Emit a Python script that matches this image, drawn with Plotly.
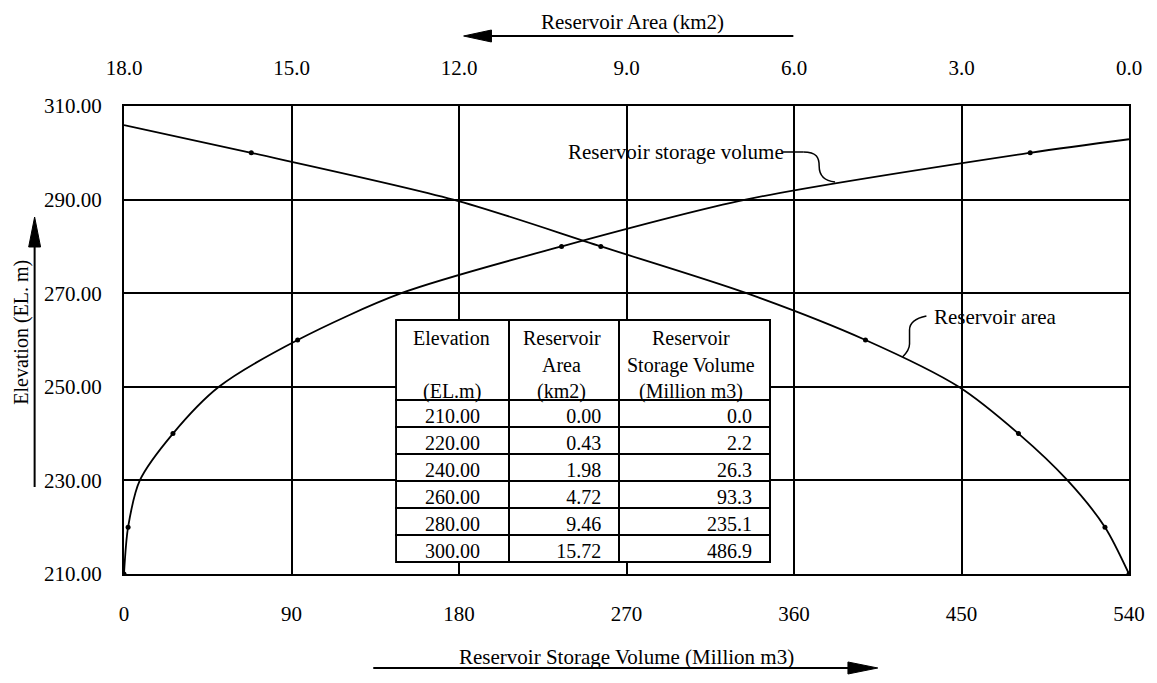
import plotly.graph_objects as go

# ---- data ----
elev_table = [210, 220, 240, 260, 280, 300]
area_table = [0.00, 0.43, 1.98, 4.72, 9.46, 15.72]
vol_table = [0.0, 2.2, 26.3, 93.3, 235.1, 486.9]

# points
vol_curve = [0, 2.2, 8.5, 26.3, 51, 93.3, 149, 235.1, 334, 486.9, 540]
vol_curve_elev = [210, 220, 230, 240, 250, 260, 270, 280, 290, 300, 302.9]
area_curve = [0.0, 0.43, 1.1, 1.98, 3.05, 4.72, 6.85, 9.46, 12.1, 15.72, 18.0]
area_curve_elev = [210, 220, 230, 240, 250, 260, 270, 280, 290, 300, 305.9]

vol_ticks = [0, 90, 180, 270, 360, 450, 540]
area_ticks = [18.0, 15.0, 12.0, 9.0, 6.0, 3.0, 0.0]
elev_ticks = [210, 230, 250, 270, 290, 310]

header_lines = [["Elevation", "", "(EL.m)"],
                ["Reservoir", "Area", "(km2)"],
                ["Reservoir", "Storage Volume", "(Million m3)"]]

# ---- layout geometry (reference pixels) ----
OFF = 8                      # page body margin
W, H = 1157, 683
L, R, T, B = 124, 1136, 106, 574
FW, FH = W - OFF, H - OFF
FONT = "Liberation Serif"


def px(x):
    return (x - L) / (R - L)


def py(y):
    return (B - y) / (B - T)


fig = go.Figure()

fig.add_trace(go.Scatter(x=vol_curve, y=vol_curve_elev, mode="lines",
                         line=dict(color="black", width=1.8, shape="spline", smoothing=0.8),
                         hoverinfo="skip", showlegend=False))
fig.add_trace(go.Scatter(x=vol_table, y=elev_table, mode="markers",
                         marker=dict(color="black", size=5), showlegend=False))
fig.add_trace(go.Scatter(x=area_curve, y=area_curve_elev, mode="lines", xaxis="x2",
                         line=dict(color="black", width=1.8, shape="spline", smoothing=0.8),
                         hoverinfo="skip", showlegend=False))
fig.add_trace(go.Scatter(x=area_table, y=elev_table, mode="markers", xaxis="x2",
                         marker=dict(color="black", size=5), showlegend=False))

# table geometry
tx0, tx1, ty0, ty1 = 398, 770, 320, 562
col_edges = [398, 510, 620, 770]
fig.add_trace(go.Table(
    domain=dict(x=[px(tx0), px(tx1 + 5)], y=[py(ty1 + 6), py(ty0)]),
    columnwidth=[112, 110, 150],
    header=dict(values=["", "", ""], align="center", height=80,
                fill_color="white", line=dict(color="black", width=2),
                font=dict(family=FONT, size=20, color="black")),
    cells=dict(values=[elev_table, area_table, vol_table],
               format=[".2f", ".2f", ".1f"],
               suffix=["", "\u00a0\u00a0", "\u00a0\u00a0"],
               align=["center", "right", "right"], height=27,
               fill_color="white", line=dict(color="black", width=2),
               font=dict(family=FONT, size=20, color="black")),
))

axis_common = dict(showline=True, linecolor="black", linewidth=2, zeroline=False,
                   ticks="", tickfont=dict(family=FONT, size=21, color="black"))

fig.update_layout(
    width=FW, height=FH,
    margin=dict(l=L - OFF, r=FW - (R - OFF), t=T - OFF, b=FH - (B - OFF)),
    paper_bgcolor="white", plot_bgcolor="white",
    xaxis=dict(range=[0, 540], tickvals=vol_ticks, showgrid=True, gridcolor="black",
               gridwidth=2, mirror=True, ticklabelstandoff=20, **axis_common),
    xaxis2=dict(range=[18, 0], tickvals=area_ticks, tickformat=".1f", overlaying="x",
                side="top", showgrid=False, ticklabelstandoff=21, **axis_common),
    yaxis=dict(range=[210, 310], tickvals=elev_ticks, tickformat=".2f", showgrid=True,
               gridcolor="black", gridwidth=2, mirror=True, ticklabelstandoff=16,
               **axis_common),
    font=dict(family=FONT, color="black"),
)


def note(text, x, y, size=21, xanchor="center", **kw):
    fig.add_annotation(text=text, x=px(x), y=py(y), xref="paper", yref="paper",
                       showarrow=False, xanchor=xanchor, yanchor="middle",
                       font=dict(family=FONT, size=size, color="black"), **kw)


note("Reservoir Area (km2)", 636, 22)
note("Reservoir Storage Volume (Million m3)", 630, 657)
note("Elevation (EL. m)", 20, 332, size=20, textangle=-90)
note("Reservoir storage volume", 569, 152, xanchor="left")
note("Reservoir area", 938, 317, xanchor="left")

# table header text (one centred line each)
hdr_y = [338, 365, 391]
for ci, lines in enumerate(header_lines):
    cx = (col_edges[ci] + col_edges[ci + 1]) / 2
    for li, txt in enumerate(lines):
        if txt:
            note(txt, cx, hdr_y[li], size=20)


def path(cmds, close=False):
    parts = [f"{c}{px(a):.5f},{py(b):.5f}" for c, (a, b) in cmds]
    return " ".join(parts) + (" Z" if close else "")


def bez(p0, c1, c2, p1):
    return (f"M{px(p0[0]):.5f},{py(p0[1]):.5f} "
            f"C{px(c1[0]):.5f},{py(c1[1]):.5f} {px(c2[0]):.5f},{py(c2[1]):.5f} "
            f"{px(p1[0]):.5f},{py(p1[1]):.5f}")


line_style = dict(color="black", width=1.5)
shapes = [
    # leader: storage volume
    dict(type="line", xref="paper", yref="paper", x0=px(787), y0=py(152), x1=px(808), y1=py(152),
         line=line_style),
    dict(type="path", xref="paper", yref="paper", line=line_style,
         path=bez((808, 152), (822, 152), (824, 158), (824, 166))),
    dict(type="path", xref="paper", yref="paper", line=line_style,
         path=bez((824, 166), (824, 176), (830, 181), (840, 182))),
    # leader: area
    dict(type="path", xref="paper", yref="paper", line=line_style,
         path=bez((932, 316), (922, 318), (915, 322), (915, 330))),
    dict(type="line", xref="paper", yref="paper", x0=px(915), y0=py(330), x1=px(915), y1=py(344),
         line=line_style),
    dict(type="path", xref="paper", yref="paper", line=line_style,
         path=bez((915, 344), (915, 350), (911, 354), (908, 357))),
    # axis arrows
    dict(type="line", xref="paper", yref="paper", x0=px(798), y0=py(36), x1=px(492), y1=py(36),
         line=dict(color="black", width=2)),
    dict(type="path", xref="paper", yref="paper", fillcolor="black", line=dict(color="black", width=1),
         path=path([("M", (466, 36)), ("L", (494, 30)), ("L", (494, 42))], close=True)),
    dict(type="line", xref="paper", yref="paper", x0=px(375), y0=py(668), x1=px(856), y1=py(668),
         line=dict(color="black", width=2)),
    dict(type="path", xref="paper", yref="paper", fillcolor="black", line=dict(color="black", width=1),
         path=path([("M", (883, 668)), ("L", (853, 662)), ("L", (853, 674))], close=True)),
    dict(type="line", xref="paper", yref="paper", x0=px(34), y0=py(487), x1=px(34), y1=py(244),
         line=dict(color="black", width=2)),
    dict(type="path", xref="paper", yref="paper", fillcolor="black", line=dict(color="black", width=1),
         path=path([("M", (34, 217)), ("L", (28, 247)), ("L", (40, 247))], close=True)),
]
fig.update_layout(shapes=shapes)

fig.write_html("out.html")
